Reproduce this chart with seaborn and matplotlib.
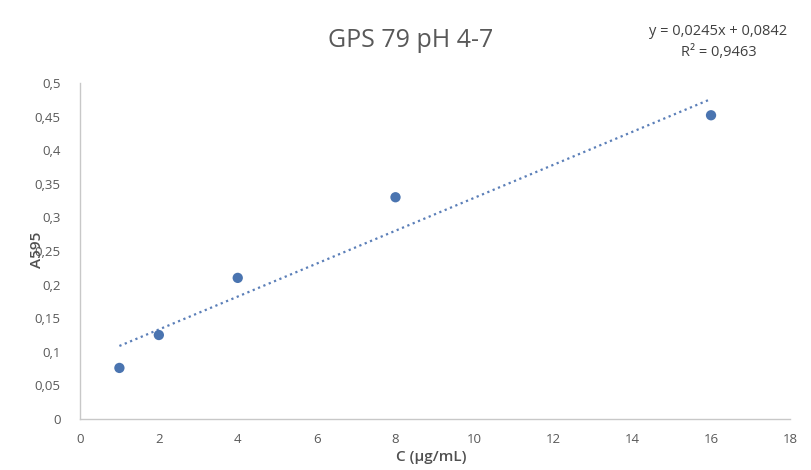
"""
Calibration curve: GPS 79 pH 4-7 (A595 vs concentration).
"""
import seaborn as sns
import pandas as pd
import numpy as np
import matplotlib.pyplot as plt
from matplotlib.ticker import FuncFormatter, MultipleLocator

# Measured points.
conc = [1, 2, 4, 8, 16]
absorb = [0.076, 0.125, 0.210, 0.330, 0.452]

# Linear trendline as reported.
slope = 0.0245
intercept = 0.0842
r2 = 0.9463

x_ticks = [0, 2, 4, 6, 8, 10, 12, 14, 16, 18]


def comma(v, pos):
    s = f"{v:.2f}".rstrip("0").rstrip(".")
    return s.replace(".", ",")


def main():
    df = pd.DataFrame({"C": conc, "A595": absorb})

    sns.set_style("white")
    plt.rcParams["font.family"] = ["Open Sans", "DejaVu Sans"]

    fig = plt.figure(figsize=(8.11, 4.70), dpi=100)
    ax = fig.add_axes([0.0986, 0.1085, 0.8754, 0.7149])

    # Trendline over the measured range.
    tx = np.array([min(conc), max(conc)])
    ax.plot(tx, slope * tx + intercept, linestyle=(0, (1, 1.6)),
            color="#5b7fb8", linewidth=1.6, zorder=2)

    sns.scatterplot(data=df, x="C", y="A595", ax=ax, color="#4a74b0",
                    s=55, edgecolor="none", zorder=3)

    ax.set_xlim(0, 18)
    ax.set_ylim(0, 0.5)
    ax.set_xticks(x_ticks)
    ax.yaxis.set_major_locator(MultipleLocator(0.05))
    ax.yaxis.set_major_formatter(FuncFormatter(comma))

    for side in ["top", "right"]:
        ax.spines[side].set_visible(False)
    for side in ["left", "bottom"]:
        ax.spines[side].set_color("#c8c8c8")
        ax.spines[side].set_linewidth(1.0)

    ax.tick_params(axis="both", length=0, labelsize=9.5,
                   labelcolor="#595959", pad=10)
    ax.tick_params(axis="y", pad=14)

    ax.set_xlabel("")
    ax.set_ylabel("")
    fig.text(0.532, 0.028, "C (µg/mL)", ha="center", va="center",
             fontsize=11, fontweight="semibold", color="#505050")
    fig.text(0.046, 0.468, "A595", ha="center", va="center", rotation=90,
             fontsize=11, fontweight="semibold", color="#505050")

    # Title and trendline equation.
    fig.text(0.506, 0.913, "GPS 79 pH 4-7", ha="center", va="center",
             fontsize=18, color="#595959")
    eq = f"y = {slope:.4f}x + {intercept:.4f}".replace(".", ",")
    fig.text(0.886, 0.932, eq, ha="center", va="center",
             fontsize=10.5, color="#404040")
    fig.text(0.886, 0.889, f"R² = {r2:.4f}".replace(".", ","),
             ha="center", va="center", fontsize=10.5, color="#404040")

    plt.savefig("out.png", dpi=100)


if __name__ == "__main__":
    main()
